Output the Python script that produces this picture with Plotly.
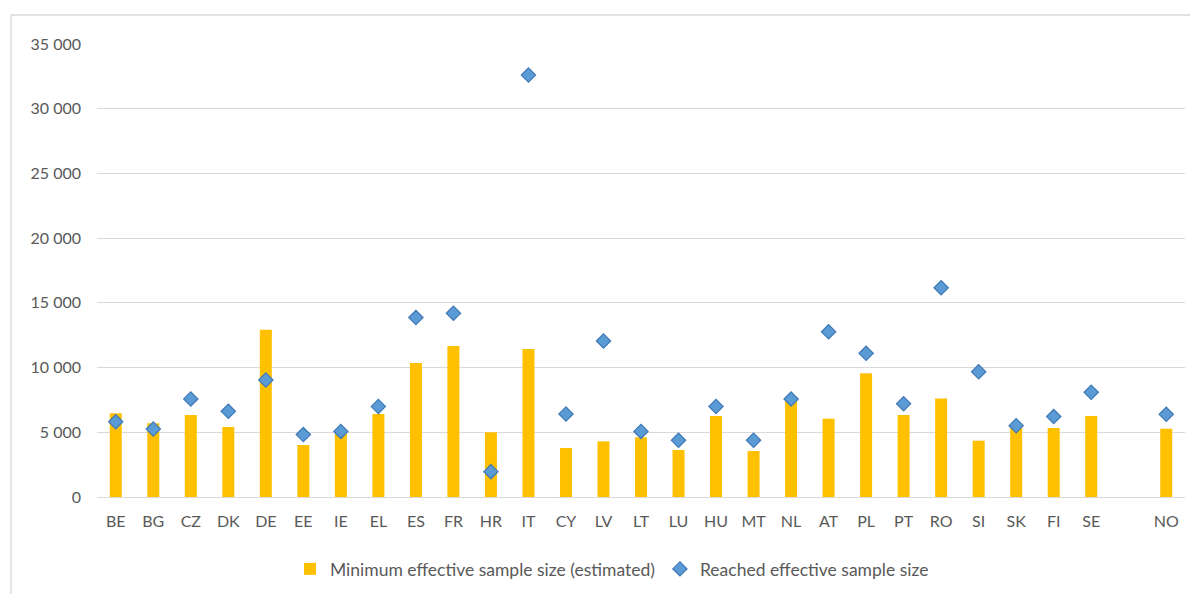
import plotly.graph_objects as go

countries = ["BE", "BG", "CZ", "DK", "DE", "EE", "IE", "EL", "ES", "FR", "HR", "IT",
             "CY", "LV", "LT", "LU", "HU", "MT", "NL", "AT", "PL", "PT", "RO", "SI",
             "SK", "FI", "SE", " ", "NO"]
minimum_size = [6470, 5690, 6340, 5410, 12930, 4020, 5000, 6410, 10350, 11670, 5000, 11430,
                3790, 4300, 4610, 3630, 6260, 3550, 7370, 6050, 9560, 6340, 7620, 4350,
                5430, 5330, 6260, None, 5280]
reached_size = [5820, 5250, 7570, 6620, 9040, 4820, 5070, 7000, 13860, 14190, 1960, 32600,
                6410, 12050, 5070, 4380, 7000, 4380, 7570, 12770, 11100, 7210, 16170, 9680,
                5510, 6210, 8090, None, 6390]
y_ticks = [0, 5000, 10000, 15000, 20000, 25000, 30000, 35000]

FONT = "Lato, Calibri, 'Open Sans', sans-serif"
TXT = "#595959"
GRID = "#D9D9D9"

fig = go.Figure()
fig.add_trace(go.Bar(
    x=countries, y=minimum_size, name="Minimum effective sample size (estimated)",
    marker=dict(color="#FFC000", line=dict(width=0)),
))
fig.add_trace(go.Scatter(
    x=countries, y=reached_size, name="Reached effective sample size", mode="markers",
    marker=dict(symbol="diamond", size=11, color="#5B9BD5",
                line=dict(color="#3F78B5", width=1.2)),
))

# page is drawn with an 8px body margin
OFF = 8
W, H = 1198, 594
L, T = 97 - OFF, 44 - OFF
R = W - (1185 - OFF)
B = H - (497 - OFF)
pw, ph = W - L - R, H - T - B


def px_x(p):
    return (p - OFF - L) / pw


def px_y(p):
    return ((H - B) - (p - OFF)) / ph


fig.update_layout(
    width=W, height=H,
    margin=dict(l=L, r=R, t=T, b=B, autoexpand=False),
    paper_bgcolor="white", plot_bgcolor="white",
    separators=", ",
    font=dict(family=FONT, color=TXT, size=16),
    bargap=0.68,
    showlegend=True,
    legend=dict(orientation="h", x=px_x(612), xanchor="center",
                y=px_y(569), yanchor="middle",
                font=dict(size=17.5, color=TXT), itemwidth=30,
                traceorder="normal"),
    xaxis=dict(type="category", categoryorder="array", categoryarray=countries,
               range=[-0.5, len(countries) - 0.5],
               showgrid=False, showline=True, linecolor=GRID, linewidth=1,
               ticks="", tickfont=dict(size=16, color=TXT), ticklabelstandoff=10,
               automargin=False, fixedrange=True),
    yaxis=dict(range=[0, 35000], tickvals=y_ticks, tickformat=",d",
               showgrid=True, gridcolor=GRID, gridwidth=1,
               zeroline=True, zerolinecolor=GRID, zerolinewidth=1,
               showline=False, ticks="", tickfont=dict(size=16, color=TXT),
               ticklabelstandoff=15, automargin=False, fixedrange=True),
    shapes=[dict(type="rect", xref="paper", yref="paper",
                 x0=px_x(11), x1=px_x(W + 30),
                 y0=px_y(H + 30), y1=px_y(15),
                 line=dict(color=GRID, width=1.3), fillcolor="rgba(0,0,0,0)",
                 layer="below")],
)

fig.write_html("out.html")
